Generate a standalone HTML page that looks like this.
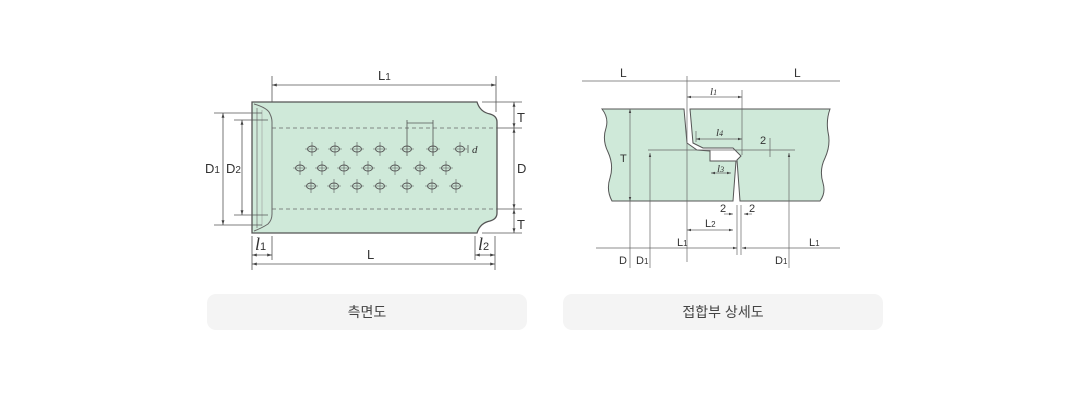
<!DOCTYPE html>
<html><head><meta charset="utf-8"><style>
html,body{margin:0;padding:0;background:#fff;width:1090px;height:400px;overflow:hidden}
.box{position:absolute;top:294px;height:36px;background:#f4f4f4;border-radius:9px;font:14px "Liberation Sans","Noto Sans CJK KR",sans-serif;color:#444;text-align:center;line-height:36px}
svg{position:absolute;left:0;top:0}
text{font-family:"Liberation Sans",sans-serif;fill:#333}
</style></head><body>
<svg width="1090" height="400" viewBox="0 0 1090 400">
<defs>
<marker id="a" viewBox="0 0 10 10" refX="10" refY="5" markerWidth="6" markerHeight="6" orient="auto-start-reverse"><path d="M0,2 L10,5 L0,8z" fill="#444"/></marker>
</defs>
<!-- LEFT DRAWING -->
<path d="M252,102 H477 Q480,112 490,114 Q497,116 497,122 V213 Q497,219 490,221 Q480,223 477,233 H252 Z" fill="#cfe9d9" stroke="#555" stroke-width="1.3"/>
<path d="M254,104 Q268,108 270,114 Q272,118 272,122 V214 Q272,220 268,224 Q262,228 254,231" fill="none" stroke="#666" stroke-width="1"/>
<line x1="257" y1="108" x2="257" y2="228" stroke="#777" stroke-width="0.8"/>
<line x1="262" y1="110" x2="262" y2="226" stroke="#999" stroke-width="0.6"/>
<line x1="272" y1="128" x2="497" y2="128" stroke="#666" stroke-dasharray="4,3" stroke-width="0.8"/>
<line x1="272" y1="209" x2="497" y2="209" stroke="#666" stroke-dasharray="4,3" stroke-width="0.8"/>
<g stroke="#555" fill="none" stroke-width="0.9">
<ellipse cx="312" cy="149" rx="4.5" ry="3"/><ellipse cx="335" cy="149" rx="4.5" ry="3"/><ellipse cx="357" cy="149" rx="4.5" ry="3"/><ellipse cx="380" cy="149" rx="4.5" ry="3"/><ellipse cx="407" cy="149" rx="4.5" ry="3"/><ellipse cx="433" cy="149" rx="4.5" ry="3"/><ellipse cx="460" cy="149" rx="4.5" ry="3"/>
<ellipse cx="300" cy="168" rx="4.5" ry="3"/><ellipse cx="322" cy="168" rx="4.5" ry="3"/><ellipse cx="344" cy="168" rx="4.5" ry="3"/><ellipse cx="368" cy="168" rx="4.5" ry="3"/><ellipse cx="395" cy="168" rx="4.5" ry="3"/><ellipse cx="420" cy="168" rx="4.5" ry="3"/><ellipse cx="446" cy="168" rx="4.5" ry="3"/>
<ellipse cx="311" cy="186" rx="4.5" ry="3"/><ellipse cx="334" cy="186" rx="4.5" ry="3"/><ellipse cx="357" cy="186" rx="4.5" ry="3"/><ellipse cx="380" cy="186" rx="4.5" ry="3"/><ellipse cx="407" cy="186" rx="4.5" ry="3"/><ellipse cx="432" cy="186" rx="4.5" ry="3"/><ellipse cx="456" cy="186" rx="4.5" ry="3"/>
<path stroke-width="0.6" d="M305,149h14M312,142v14M328,149h14M335,142v14M350,149h14M357,142v14M373,149h14M380,142v14M400,149h14M426,149h14M433,142v14M453,149h14M460,142v14
M293,168h14M300,161v14M315,168h14M322,161v14M337,168h14M344,161v14M361,168h14M368,161v14M388,168h14M395,161v14M413,168h14M420,161v14M439,168h14M446,161v14
M304,186h14M311,179v14M327,186h14M334,179v14M350,186h14M357,179v14M373,186h14M380,179v14M400,186h14M407,179v14M425,186h14M432,179v14M449,186h14M456,179v14"/>
</g>
<g stroke="#555" stroke-width="0.8" fill="none">
<line x1="407" y1="120" x2="407" y2="156"/><line x1="433" y1="120" x2="433" y2="156"/>
<line x1="407" y1="123" x2="433" y2="123"/>
<line x1="468" y1="145" x2="468" y2="153"/>
<line x1="272" y1="76" x2="272" y2="102"/><line x1="496" y1="76" x2="496" y2="112"/>
<line x1="272" y1="85" x2="496" y2="85" marker-start="url(#a)" marker-end="url(#a)"/>
<line x1="214" y1="113" x2="262" y2="113"/><line x1="214" y1="225" x2="262" y2="225"/>
<line x1="234" y1="120" x2="268" y2="120"/><line x1="234" y1="215" x2="268" y2="215"/>
<line x1="223" y1="113" x2="223" y2="225" marker-start="url(#a)" marker-end="url(#a)"/>
<line x1="242" y1="120" x2="242" y2="215" marker-start="url(#a)" marker-end="url(#a)"/>
<line x1="482" y1="102" x2="522" y2="102"/><line x1="497" y1="128" x2="522" y2="128"/><line x1="497" y1="209" x2="522" y2="209"/><line x1="482" y1="233" x2="522" y2="233"/>
<line x1="514" y1="102" x2="514" y2="128" marker-start="url(#a)" marker-end="url(#a)"/>
<line x1="514" y1="128" x2="514" y2="209" marker-start="url(#a)" marker-end="url(#a)"/>
<line x1="514" y1="209" x2="514" y2="233" marker-start="url(#a)" marker-end="url(#a)"/>
<line x1="252" y1="236" x2="252" y2="270"/><line x1="272" y1="236" x2="272" y2="260"/>
<line x1="475" y1="236" x2="475" y2="260"/><line x1="495" y1="236" x2="495" y2="270"/>
<line x1="252" y1="255" x2="272" y2="255" marker-start="url(#a)" marker-end="url(#a)"/>
<line x1="475" y1="255" x2="495" y2="255" marker-start="url(#a)" marker-end="url(#a)"/>
<line x1="252" y1="264" x2="495" y2="264" marker-start="url(#a)" marker-end="url(#a)"/>
</g>
<text x="378" y="80" font-size="13">L<tspan font-size="10">1</tspan></text>
<text x="205" y="173" font-size="13">D<tspan font-size="10">1</tspan></text>
<text x="226" y="173" font-size="13">D<tspan font-size="10">2</tspan></text>
<text x="517" y="122" font-size="13">T</text>
<text x="517" y="173" font-size="13">D</text>
<text x="517" y="229" font-size="13">T</text>
<text x="472" y="153" font-size="11" font-style="italic" style="font-family:'Liberation Serif'">d</text>
<text x="367" y="259" font-size="13">L</text>
<text x="255" y="250" font-size="18" font-style="italic" style="font-family:'Liberation Serif'">l<tspan font-size="11" font-style="normal" style="font-family:'Liberation Sans'">1</tspan></text>
<text x="478" y="250" font-size="18" font-style="italic" style="font-family:'Liberation Serif'">l<tspan font-size="11" font-style="normal" style="font-family:'Liberation Sans'">2</tspan></text>

<!-- RIGHT DRAWING -->
<line x1="582" y1="81" x2="840" y2="81" stroke="#666" stroke-width="0.8"/>
<text x="620" y="77" font-size="12">L</text><text x="794" y="77" font-size="12">L</text>
<path d="M602,109 H684 L687,143 L697,150 L710,151 V161 L736,161 L733,201 H612 Q606,190 610,178 Q614,165 608,152 Q602,140 606,128 Q609,118 602,109Z" fill="#cfe9d9" stroke="#555" stroke-width="1"/>
<path d="M690,109 H830 Q826,120 828,132 Q831,145 825,158 Q819,170 823,183 Q826,193 820,201 H740 L737,160 L741,156 L733,148 L703,148 L693,143 Z" fill="#cfe9d9" stroke="#555" stroke-width="1"/>
<g stroke="#666" stroke-width="0.7" fill="none">
<line x1="687" y1="76" x2="687" y2="262"/>
<line x1="742" y1="90" x2="742" y2="155"/>
<line x1="737" y1="205" x2="737" y2="255"/><line x1="741" y1="205" x2="741" y2="255"/>
<line x1="687" y1="97" x2="742" y2="97" marker-start="url(#a)" marker-end="url(#a)"/>
<line x1="696" y1="131" x2="696" y2="142"/>
<line x1="696" y1="139" x2="742" y2="139" marker-start="url(#a)" marker-end="url(#a)"/>
<line x1="648" y1="150" x2="795" y2="150"/>
<line x1="770" y1="138" x2="770" y2="157"/>
<line x1="711" y1="173" x2="731" y2="173" marker-start="url(#a)" marker-end="url(#a)"/>
<line x1="650" y1="153" x2="650" y2="268" marker-start="url(#a)"/>
<line x1="789" y1="153" x2="789" y2="268" marker-start="url(#a)"/>
<line x1="630" y1="109" x2="630" y2="201" marker-start="url(#a)" marker-end="url(#a)"/>
<line x1="630" y1="201" x2="630" y2="268"/>
<line x1="687" y1="230" x2="733" y2="230" marker-start="url(#a)" marker-end="url(#a)"/>
<line x1="724" y1="214" x2="733" y2="214" marker-end="url(#a)"/>
<line x1="752" y1="214" x2="744" y2="214" marker-end="url(#a)"/>
<line x1="596" y1="248" x2="737" y2="248" marker-end="url(#a)"/>
<line x1="840" y1="248" x2="742" y2="248" marker-end="url(#a)"/>
</g>
<g font-size="11">
<text x="710" y="95" font-style="italic" style="font-family:'Liberation Serif'">l<tspan font-size="8">1</tspan></text>
<text x="716" y="136" font-style="italic" style="font-family:'Liberation Serif'">l<tspan font-size="8">4</tspan></text>
<text x="717" y="172" font-style="italic" style="font-family:'Liberation Serif'">l<tspan font-size="8">3</tspan></text>
<text x="760" y="144">2</text>
<text x="720" y="212">2</text><text x="749" y="212">2</text>
<text x="705" y="227">L<tspan font-size="8">2</tspan></text>
<text x="677" y="246">L<tspan font-size="8">1</tspan></text>
<text x="809" y="246">L<tspan font-size="8">1</tspan></text>
<text x="620" y="162">T</text>
<text x="619" y="264">D</text>
<text x="636" y="264">D<tspan font-size="8">1</tspan></text>
<text x="775" y="264">D<tspan font-size="8">1</tspan></text>
</g>
</svg>
<div class="box" style="left:207px;width:320px">측면도</div>
<div class="box" style="left:563px;width:320px">접합부 상세도</div>
</body></html>
